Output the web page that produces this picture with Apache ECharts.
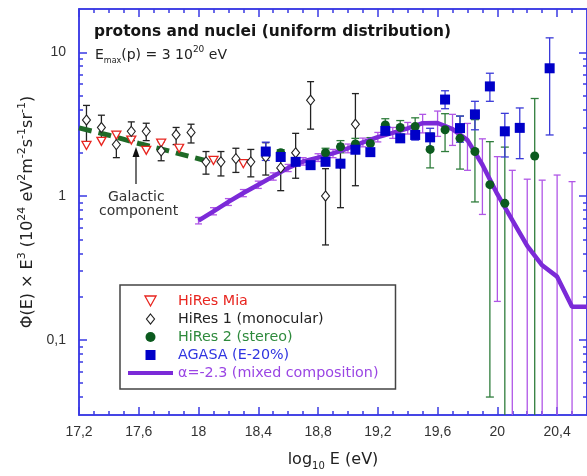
<!DOCTYPE html>
<html>
<head>
<meta charset="utf-8">
<script src="https://cdn.jsdelivr.net/npm/echarts@6/dist/echarts.min.js"></script>
<style>
html, body { margin: 0; background: #fff; }
#main { width: 587px; height: 476px; }
</style>
</head>
<body>
<div id="main"></div>
<script>
// axes
var xTickLabels = [17.2, 17.6, 18, 18.4, 18.8, 19.2, 19.6, 20, 20.4];
var yTickLabels = [0.1, 1, 10];

// HiRes Mia
var miaX = [17.25, 17.35, 17.45, 17.55, 17.65, 17.75, 17.87, 18.1, 18.3];
var miaY = [2.25, 2.4, 2.65, 2.45, 2.08, 2.33, 2.15, 1.77, 1.68];

// HiRes 1 (monocular)
var hr1X  = [17.25, 17.35, 17.45, 17.55, 17.65, 17.75, 17.85, 17.95, 18.05, 18.15, 18.25, 18.35, 18.45, 18.55, 18.65, 18.75, 18.85, 18.95, 19.05];
var hr1Y  = [3.38, 3.0, 2.28, 2.82, 2.82, 2.06, 2.67, 2.77, 1.73, 1.73, 1.82, 1.73, 1.87, 1.57, 2.0, 4.64, 1.0, 1.68, 3.16];
var hr1Lo = [2.31, 2.5, 1.85, 2.43, 2.43, 1.76, 2.28, 2.34, 1.42, 1.38, 1.46, 1.36, 1.40, 1.09, 1.33, 2.92, 0.457, 0.83, 1.18];
var hr1Hi = [4.27, 3.65, 2.79, 3.28, 3.21, 2.38, 3.0, 3.16, 2.04, 2.04, 2.15, 2.11, 2.35, 2.03, 2.73, 6.25, 1.55, 2.3, 5.16];

// HiRes 2 (stereo)
var hr2X  = [18.55, 18.85, 18.95, 19.05, 19.15, 19.25, 19.35, 19.45, 19.55, 19.65, 19.75, 19.85, 19.95, 20.05, 20.25];
var hr2Y  = [2.0, 2.0, 2.2, 2.3, 2.32, 3.12, 3.0, 3.05, 2.11, 2.89, 2.52, 2.04, 1.2, 0.89, 1.9];
var hr2Lo = [1.9, 1.86, 2.0, 2.1, 2.12, 2.85, 2.7, 2.7, 1.57, 2.04, 1.54, 0.91, 0.04, 0.02, 0.02];
var hr2Hi = [2.1, 2.15, 2.43, 2.52, 2.55, 3.45, 3.35, 3.5, 2.74, 3.74, 3.6, 3.4, 2.39, 2.19, 4.77];

// AGASA (E-20%)
var agX  = [18.45, 18.55, 18.65, 18.75, 18.85, 18.95, 19.05, 19.15, 19.25, 19.35, 19.45, 19.55, 19.65, 19.75, 19.85, 19.95, 20.05, 20.15, 20.35];
var agY  = [2.04, 1.87, 1.73, 1.64, 1.73, 1.68, 2.10, 2.02, 2.84, 2.52, 2.66, 2.56, 4.69, 2.97, 3.70, 5.79, 2.82, 2.98, 7.74];
var agLo = [1.77, 1.78, 1.64, 1.56, 1.64, 1.59, 1.98, 1.91, 2.66, 2.37, 2.45, 2.19, 4.05, 2.37, 2.89, 4.56, 1.87, 1.82, 2.66];
var agHi = [2.37, 1.97, 1.83, 1.73, 1.83, 1.78, 2.23, 2.14, 3.03, 2.68, 2.88, 2.96, 5.4, 3.6, 4.56, 7.15, 3.76, 4.1, 12.6];

// alpha = -2.3 model
var modelX  = [18.0, 18.1, 18.2, 18.3, 18.4, 18.5, 18.6, 18.7, 18.8, 18.9, 19.0, 19.1, 19.2, 19.3, 19.4, 19.5, 19.6, 19.7, 19.8, 19.9, 20.0, 20.1, 20.2, 20.3, 20.4, 20.5, 20.6];
var modelY  = [0.674, 0.783, 0.91, 1.05, 1.2, 1.37, 1.57, 1.74, 1.85, 1.98, 2.15, 2.36, 2.57, 2.75, 2.96, 3.21, 3.22, 2.92, 2.45, 1.65, 1.03, 0.68, 0.45, 0.33, 0.275, 0.17, 0.17];
var modelLo = [0.64, 0.74, 0.86, 0.99, 1.13, 1.29, 1.48, 1.64, 1.74, 1.85, 2.0, 2.2, 2.38, 2.52, 2.7, 2.75, 2.6, 2.25, 1.51, 0.745, 0.185, 0.02, 0.02, 0.02, 0.02, 0.02, null];
var modelHi = [0.71, 0.83, 0.96, 1.11, 1.27, 1.45, 1.66, 1.85, 1.97, 2.11, 2.3, 2.53, 2.77, 3.0, 3.25, 3.7, 3.9, 3.7, 3.2, 2.5, 1.88, 1.51, 1.31, 1.29, 1.40, 1.26, null];

// galactic component
var galX = [17.2, 17.4, 17.6, 17.8, 18.05];
var galY = [2.98, 2.65, 2.32, 2.06, 1.76];

var FONT = 'DejaVu Sans';
var AXIS_BLUE = '#3a3ae4';

function pairs(xs, ys) {
    return xs.map(function (x, i) { return [x, ys[i]]; });
}

// vertical error bars with caps
function errorBars(name, xs, lo, hi, color, cap, z) {
    var data = [];
    for (var i = 0; i < xs.length; i++) {
        if (lo[i] != null) data.push([xs[i], lo[i], hi[i]]);
    }
    return {
        name: name,
        type: 'custom',
        clip: true,
        z: z,
        data: data,
        encode: { x: 0, y: [1, 2] },
        renderItem: function (params, api) {
            var top = api.coord([api.value(0), api.value(2)]);
            var bot = api.coord([api.value(0), api.value(1)]);
            var h = cap / 2;
            var st = { stroke: color, lineWidth: 1.3 };
            return {
                type: 'group',
                children: [
                    { type: 'line', shape: { x1: top[0], y1: top[1], x2: bot[0], y2: bot[1] }, style: st },
                    { type: 'line', shape: { x1: top[0] - h, y1: top[1], x2: top[0] + h, y2: top[1] }, style: st },
                    { type: 'line', shape: { x1: bot[0] - h, y1: bot[1], x2: bot[0] + h, y2: bot[1] }, style: st }
                ]
            };
        }
    };
}

var xMinor = [];
for (var v = 17.3; v < 20.6; v += 0.1) {
    var r = Math.round(v * 10) / 10;
    if (xTickLabels.indexOf(r) < 0) xMinor.push(r);
}
var yMinor = [];
[0.01, 0.1, 1].forEach(function (d) {
    for (var k = 2; k <= 9; k++) {
        var val = +(k * d).toFixed(3);
        if (val > 0.03 && val < 20) yMinor.push(val);
    }
});

function commaFmt(v) { return String(+v.toFixed(2)).replace('.', ','); }

function xAx(pos, ticks, len, labels) {
    return {
        type: 'value', position: pos, min: 17.2, max: 20.6,
        axisLine: { show: true, lineStyle: { color: AXIS_BLUE, width: 1.5 } },
        axisTick: { show: true, inside: true, length: len, customValues: ticks, lineStyle: { color: AXIS_BLUE, width: 1.5 } },
        axisLabel: labels ? {
            show: true, customValues: xTickLabels, formatter: commaFmt, margin: 10,
            color: '#333', fontFamily: 'Liberation Sans', fontSize: 14
        } : { show: false },
        splitLine: { show: false }
    };
}
function yAx(pos, ticks, len, labels) {
    return {
        type: 'log', position: pos, min: 0.03, max: 20, logBase: 10,
        axisLine: { show: true, lineStyle: { color: AXIS_BLUE, width: 1.5 } },
        axisTick: { show: true, inside: true, length: len, customValues: ticks, lineStyle: { color: AXIS_BLUE, width: 1.5 } },
        axisLabel: labels ? {
            show: true, customValues: yTickLabels, formatter: commaFmt, margin: 13,
            color: '#333', fontFamily: 'Liberation Sans', fontSize: 14
        } : { show: false },
        splitLine: { show: false }
    };
}

var xMain = xAx('bottom', xTickLabels, 8, true);
xMain.name = '{a|log}{s|10}{a| E (eV)}';
xMain.nameLocation = 'middle';
xMain.nameGap = 34;
xMain.nameTextStyle = {
    rich: {
        a: { fontFamily: FONT, fontSize: 16, color: '#222', lineHeight: 22 },
        s: { fontFamily: FONT, fontSize: 10, color: '#222', lineHeight: 10, verticalAlign: 'bottom' }
    }
};

var yMain = yAx('left', yTickLabels, 8, true);
yMain.name = '{a|Φ(E) × E}{p|3}{a| (10}{p|24}{a| eV}{p|2}{a|m}{p|-2}{a|s}{p|-1}{a|sr}{p|-1}{a|)}';
yMain.nameLocation = 'middle';
yMain.nameGap = 30;
yMain.nameTextStyle = {
    rich: {
        a: { fontFamily: FONT, fontSize: 16, color: '#222', lineHeight: 22 },
        p: { fontFamily: FONT, fontSize: 11, color: '#222', lineHeight: 12, verticalAlign: 'top' }
    }
};

var chart = echarts.init(document.getElementById('main'));
chart.setOption({
    animation: false,
    backgroundColor: '#fff',
    grid: { left: 79, top: 9, right: -1, bottom: 58, containLabel: false },
    title: [{
        text: 'protons and nuclei (uniform distribution)',
        left: 94, top: 24, padding: 0,
        textStyle: { fontFamily: FONT, fontSize: 15.4, fontWeight: 'bold', color: '#151515' }
    }, {
        text: '{a|E}{s|max}{a|(p) = 3 10}{p|20}{a| eV}',
        left: 95, top: 45, padding: 0,
        textStyle: {
            fontWeight: 'normal',
            rich: {
                a: { fontFamily: FONT, fontSize: 14, fontWeight: 'normal', color: '#222', lineHeight: 20 },
                s: { fontFamily: FONT, fontSize: 8, fontWeight: 'normal', color: '#222', lineHeight: 8, verticalAlign: 'bottom' },
                p: { fontFamily: FONT, fontSize: 9, fontWeight: 'normal', color: '#222', lineHeight: 10, verticalAlign: 'top' }
            }
        }
    }],
    xAxis: [
        xMain,
        xAx('bottom', xMinor, 4, false),
        xAx('top', xTickLabels, 8, false),
        xAx('top', xMinor, 4, false)
    ],
    yAxis: [
        yMain,
        yAx('left', yMinor, 4, false),
        yAx('right', yTickLabels, 8, false),
        yAx('right', yMinor, 4, false)
    ],
    legend: {
        orient: 'vertical', left: 120, top: 285,
        padding: [9, 17, 9, 8],
        borderColor: '#444', borderWidth: 1.5,
        itemWidth: 45, itemHeight: 10, itemGap: 4,
        selectedMode: false,
        textStyle: { fontFamily: FONT, fontSize: 14.3, lineHeight: 14 },
        data: [
            { name: 'HiRes Mia', icon: 'path://M0,0L10,0L5,9Z', itemStyle: { color: '#fff', borderColor: '#e8251f', borderWidth: 1.3 }, textStyle: { color: '#e8251f' } },
            { name: 'HiRes 1 (monocular)', icon: 'path://M4,0L8,5L4,10L0,5Z', itemStyle: { color: '#fff', borderColor: '#222', borderWidth: 1.2 }, textStyle: { color: '#222' } },
            { name: 'HiRes 2 (stereo)', icon: 'circle', itemStyle: { color: '#0b5a1e' }, textStyle: { color: '#2e8a3c' } },
            { name: 'AGASA (E-20%)', icon: 'path://M0,0H10V10H0Z', itemStyle: { color: '#0000c8' }, textStyle: { color: '#2f35e0' } },
            { name: 'α=-2.3 (mixed composition)', icon: 'path://M0,0H46V4H0Z', itemStyle: { color: '#7b2ad8' }, textStyle: { color: '#9a45e4' } }
        ]
    },
    graphic: [
        { type: 'text', left: 108, top: 190, style: { text: 'Galactic', font: '14px "DejaVu Sans"', fill: '#333' } },
        { type: 'text', left: 99, top: 204, style: { text: 'component', font: '14px "DejaVu Sans"', fill: '#333' } },
        { type: 'line', shape: { x1: 136, y1: 184, x2: 136, y2: 152 }, style: { stroke: '#111', lineWidth: 1.2 } },
        { type: 'polygon', shape: { points: [[136, 147], [132.5, 157], [139.5, 157]] }, style: { fill: '#111' } }
    ],
    series: [
        errorBars('HiRes 1 err', hr1X, hr1Lo, hr1Hi, '#222', 7, 2),
        errorBars('HiRes 2 err', hr2X, hr2Lo, hr2Hi, '#2f7d3c', 8, 2),
        errorBars('AGASA err', agX, agLo, agHi, '#3a3ad8', 8, 2),
        errorBars('model err', modelX, modelLo, modelHi, '#b056e6', 7, 2),
        {
            name: 'α=-2.3 (mixed composition)', type: 'line', z: 3,
            data: pairs(modelX, modelY), showSymbol: false, symbol: 'none',
            lineStyle: { color: '#7b2ad8', width: 4.5 }, itemStyle: { color: '#7b2ad8' }
        },
        {
            name: 'Galactic', type: 'line', z: 4,
            data: pairs(galX, galY), showSymbol: false, symbol: 'none',
            lineStyle: { color: '#1f6a27', width: 5, type: [13, 7], cap: 'butt' }
        },
        {
            name: 'HiRes Mia', type: 'scatter', z: 5,
            data: pairs(miaX, miaY), symbol: 'triangle', symbolRotate: 180, symbolSize: [9, 8],
            itemStyle: { color: '#fff', borderColor: '#e8251f', borderWidth: 1.3, opacity: 1 }
        },
        {
            name: 'HiRes 1 (monocular)', type: 'scatter', z: 5,
            data: pairs(hr1X, hr1Y), symbol: 'diamond', symbolSize: [8, 10],
            itemStyle: { color: '#fff', borderColor: '#222', borderWidth: 1.1, opacity: 1 }
        },
        {
            name: 'HiRes 2 (stereo)', type: 'scatter', z: 6,
            data: pairs(hr2X, hr2Y), symbol: 'circle', symbolSize: 9,
            itemStyle: { color: '#0b5a1e', opacity: 1 }
        },
        {
            name: 'AGASA (E-20%)', type: 'scatter', z: 6,
            data: pairs(agX, agY), symbol: 'rect', symbolSize: 10,
            itemStyle: { color: '#0000c8', opacity: 1 }
        }
    ]
});
</script>
</body>
</html>
